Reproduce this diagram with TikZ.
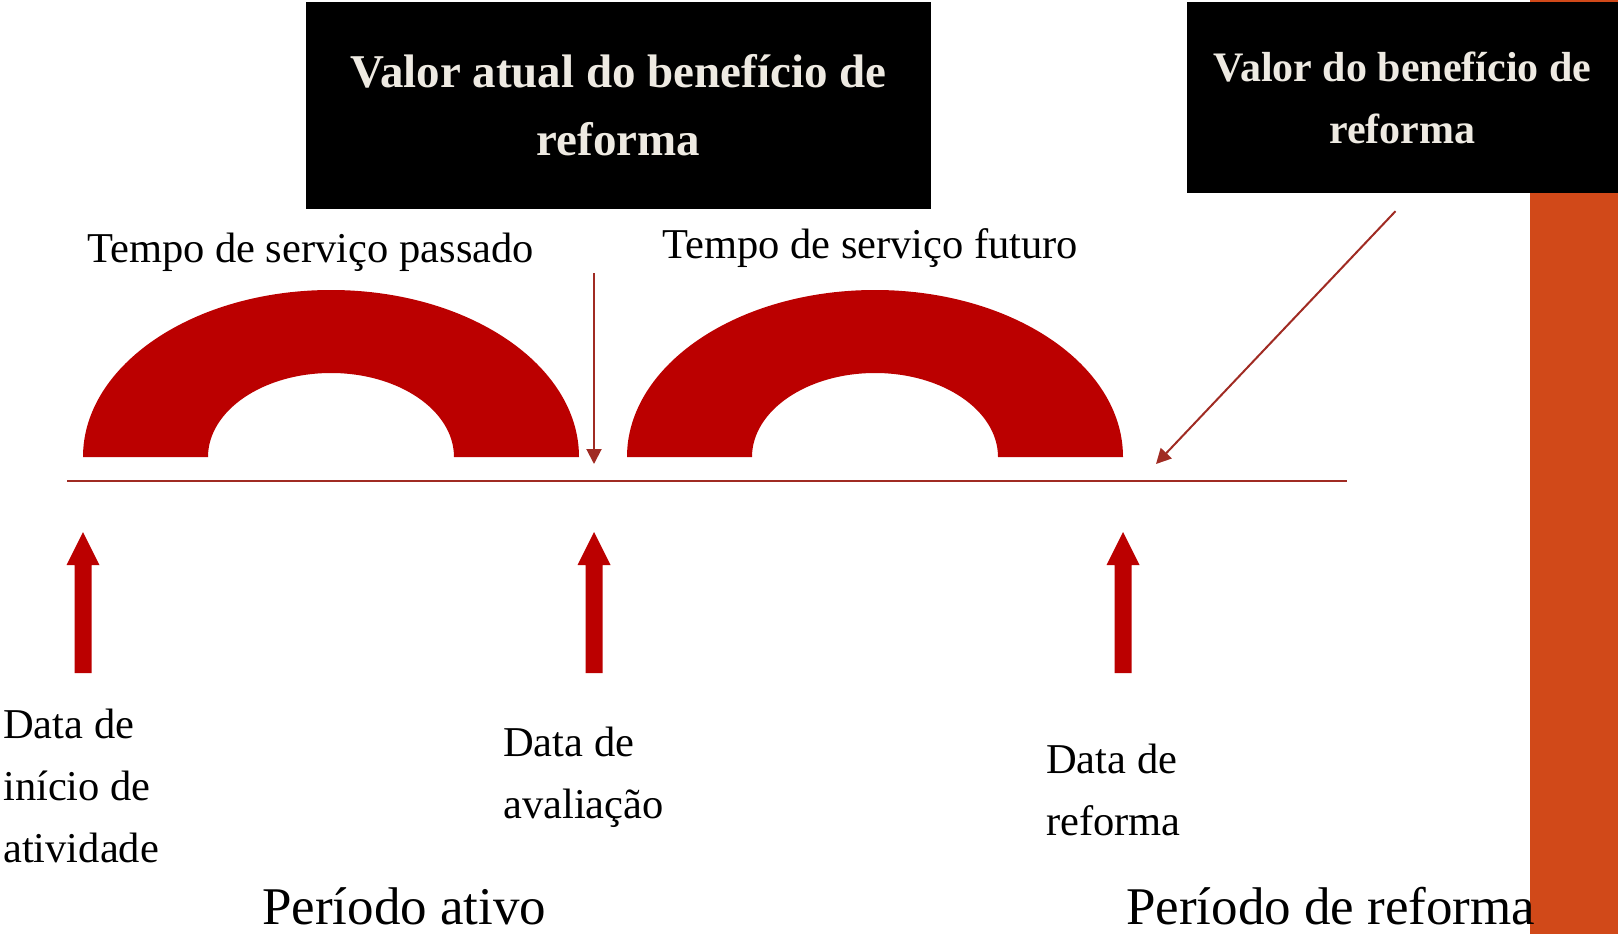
\documentclass[tikz,border=0pt]{standalone}
\usepackage{fontspec}
\setmainfont{Liberation Serif}
\usepackage{tikz}
\usetikzlibrary{arrows.meta}

\definecolor{archred}{RGB}{187,0,0}
\definecolor{linered}{RGB}{160,43,35}
\definecolor{sidebar}{RGB}{209,73,25}
\definecolor{boxtext}{RGB}{238,234,226}

\begin{document}
\begin{tikzpicture}[x=1pt, y=-1pt,
    titlebox/.style={fill=black, text=boxtext, align=center, inner sep=0pt},
    datelabel/.style={anchor=north west, align=left, inner sep=0pt, font=\fontsize{42.5}{62}\selectfont},
    servicelabel/.style={anchor=base west, inner sep=0pt, font=\fontsize{42.5}{62}\selectfont},
    periodlabel/.style={anchor=base west, inner sep=0pt, font=\fontsize{53}{64}\selectfont},
    pointer/.style={draw=linered, line width=2pt, -{Triangle[width=15pt, length=15pt]}}]

    \useasboundingbox (0,0) rectangle (1618,934);

    % side bar
    \fill [sidebar] (1530,0) rectangle (1618,934);

    \node [titlebox, minimum width=625pt, minimum height=207pt, font=\bfseries\fontsize{47}{68}\selectfont] (box_now) at (618.5,105.5) {\raisebox{-2pt}{Valor atual do benefício de}\\\raisebox{-2pt}{reforma}};
    \node [titlebox, minimum width=431pt, minimum height=191pt, font=\bfseries\fontsize{42}{62}\selectfont] (box_ret) at (1402.5,97.5) {Valor do benefício de\\reforma};

    \node [servicelabel] (past) at (87,262) {Tempo de serviço passado};
    \node [servicelabel] (future) at (662,258) {Tempo de serviço futuro};

    % arches
    \foreach \cx in {331, 875}
    {
        \fill [archred] (\cx-248,457) arc [start angle=180, end angle=0, x radius=248pt, y radius=167pt]
            -- (\cx+123,457) arc [start angle=0, end angle=180, x radius=123pt, y radius=84pt] -- cycle;
    }

    % time line
    \coordinate (tl_start) at (67,481);
    \coordinate (tl_end) at (1347,481);
    \draw [linered, line width=2.5pt] (tl_start) -- (tl_end);

    \coordinate (eval_top) at (594,273);
    \coordinate (eval_mark) at (594,464);
    \coordinate (ret_mark) at (1156,464);
    \draw [pointer] (eval_top) -- (eval_mark);
    \draw [pointer] ([shift={(-7,18)}]box_ret.south) -- (ret_mark);

    % up arrows
    \foreach \ax in {83, 594, 1123}
    {
        \fill [archred] (\ax-8.5,673) -- (\ax-8.5,565) -- (\ax-16.5,565) -- (\ax,532)
            -- (\ax+16.5,565) -- (\ax+8.5,565) -- (\ax+8.5,673) -- cycle;
    }

    \node [datelabel] (start_lbl) at (3,709) {Data de\\início de\\atividade};
    \node [datelabel] (eval_lbl) at (503,727) {Data de\\avaliação};
    \node [datelabel] (ret_lbl) at (1046,744) {Data de\\reforma};

    \node [periodlabel] (active) at (262,924) {Período ativo};
    \node [periodlabel] (retired) at (1126,924) {Período de reforma};

\end{tikzpicture}
\end{document}
